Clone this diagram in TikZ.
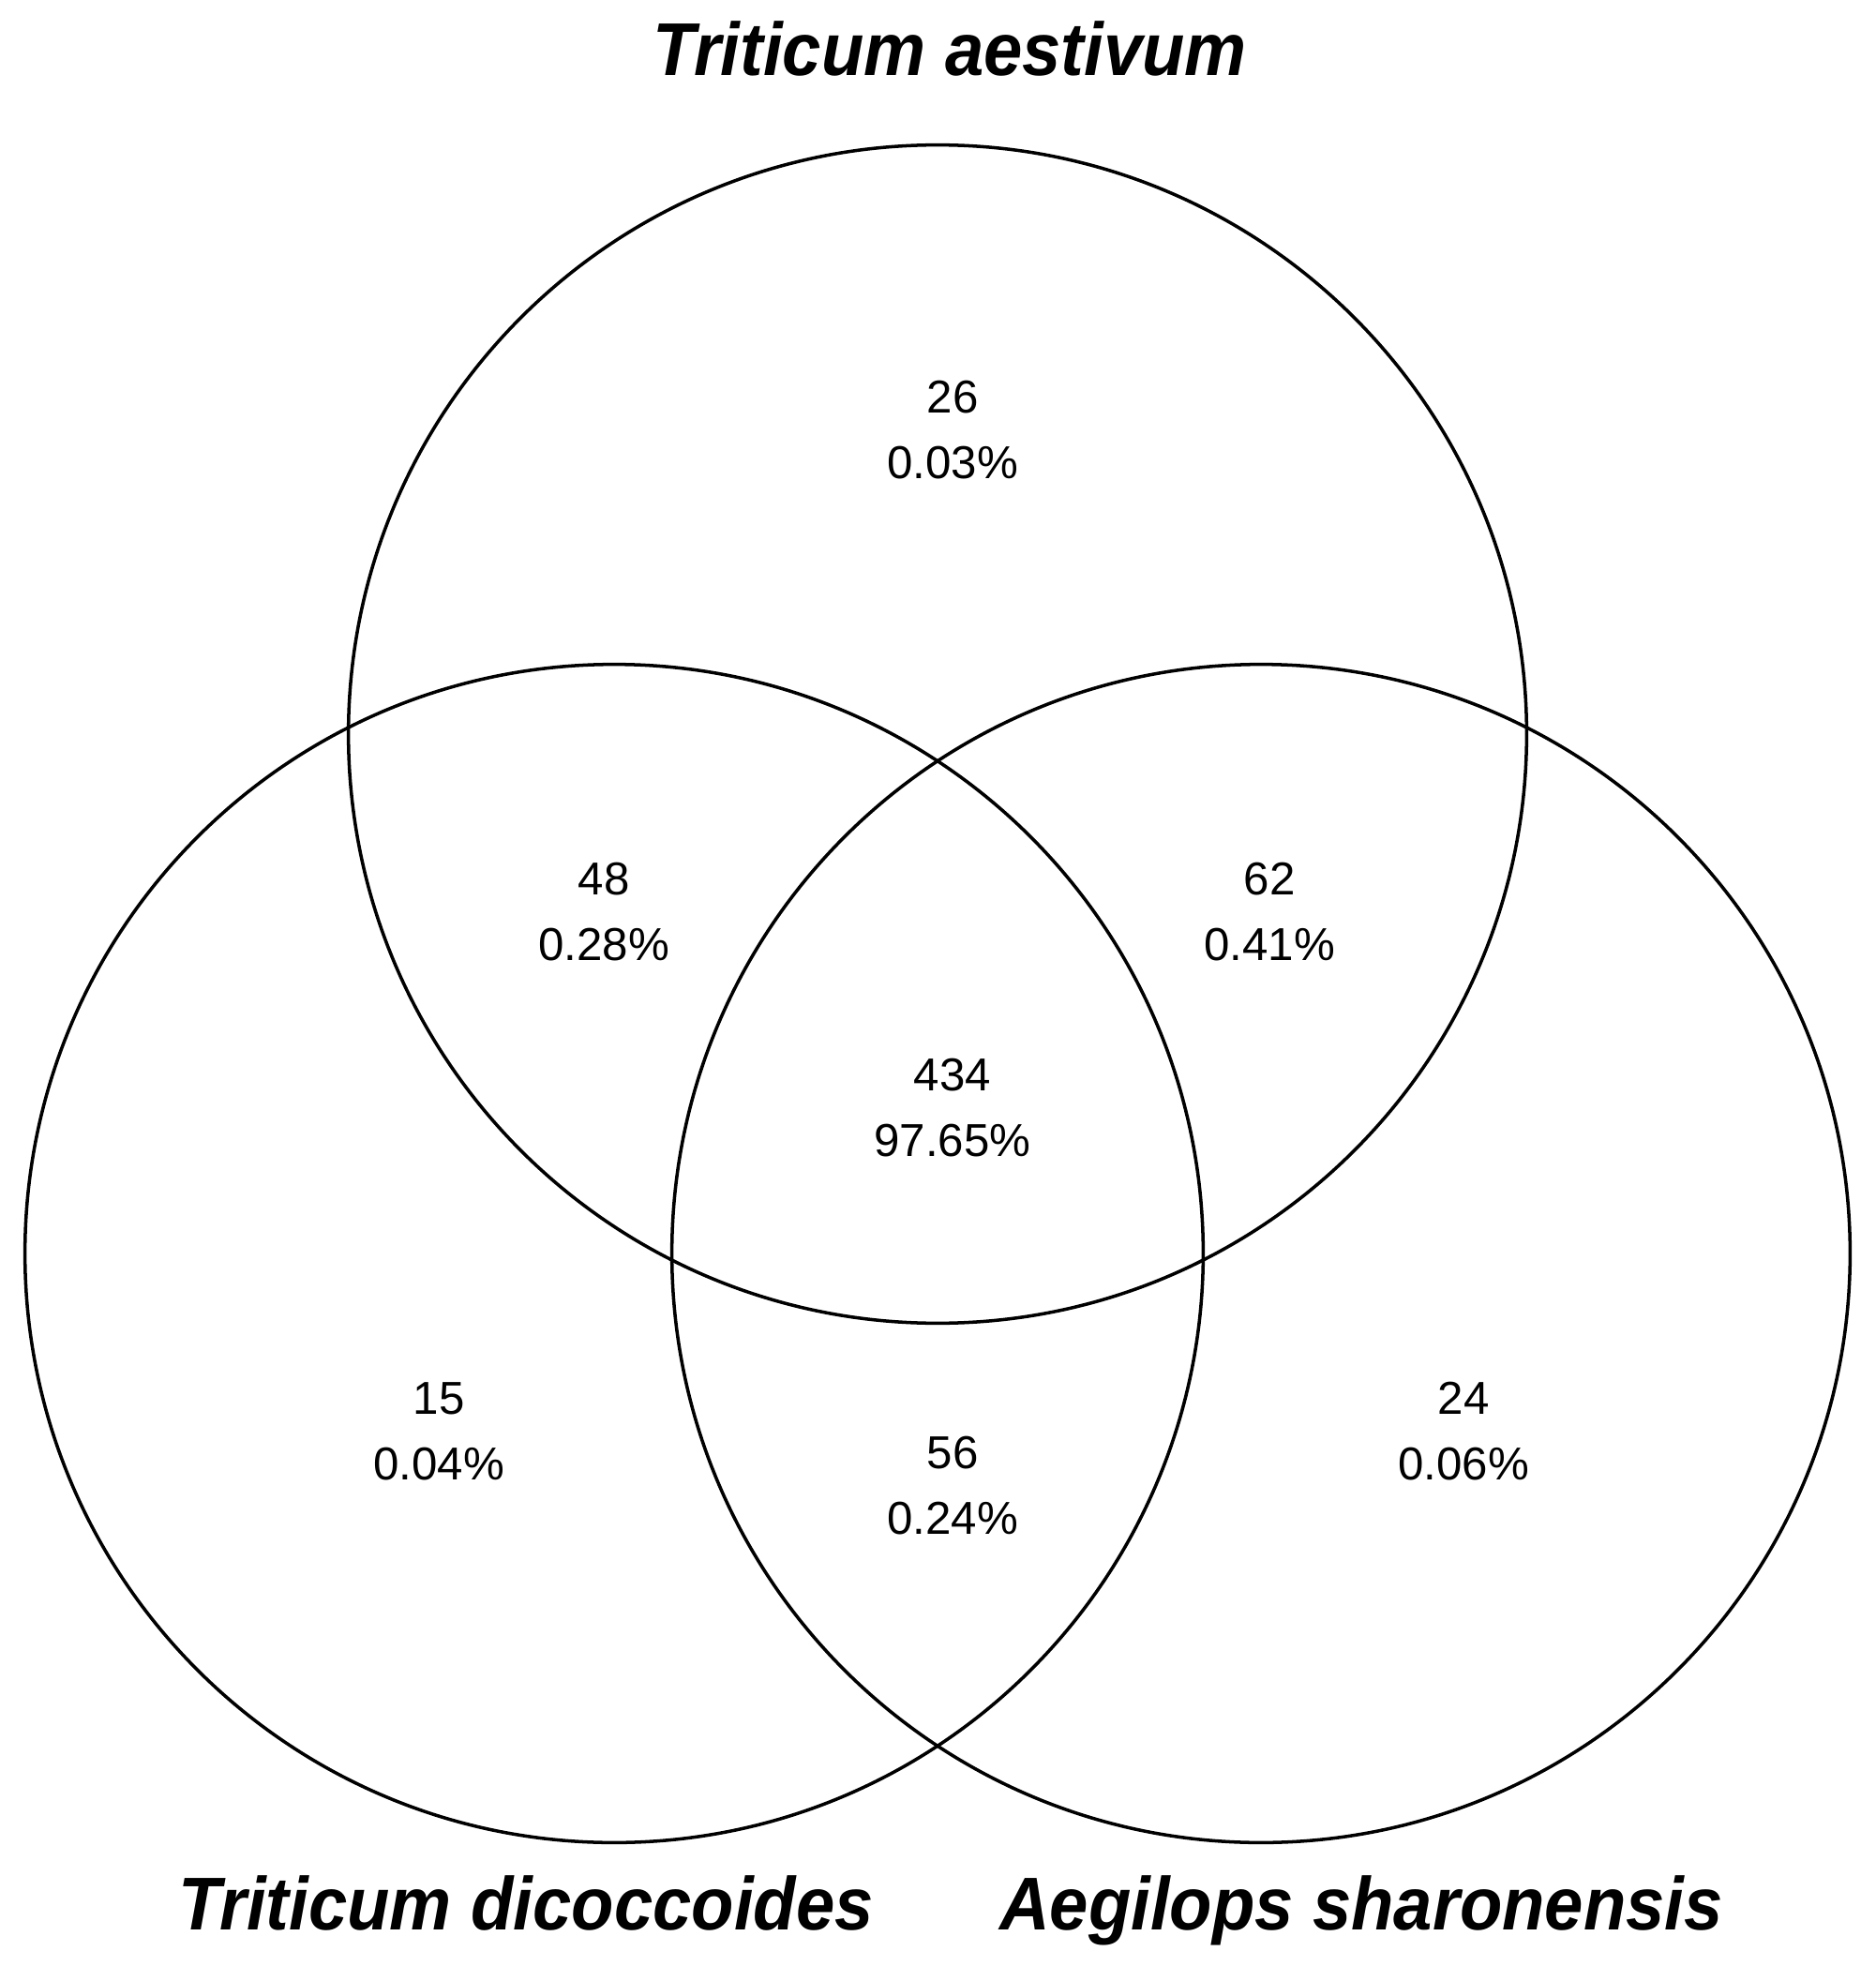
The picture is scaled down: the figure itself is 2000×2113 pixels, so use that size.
\documentclass[tikz,border=0pt]{standalone}
\usepackage{fontspec}
\setmainfont{Liberation Sans}
\newfontfamily\titlefont[FakeStretch=0.93]{Liberation Sans}
\usetikzlibrary{positioning}
\tikzset{
  vennline/.style={line width=1pt},
  count/.style={align=center, inner sep=0pt,
    font=\fontsize{14}{19.9}\selectfont},
  species/.style={anchor=base, inner sep=0pt,
    font=\titlefont\bfseries\itshape\fontsize{22.7}{26}\selectfont}
}
\newcommand \mycount[4]
{
\node[count] (#1) at (#2) {#3\\#4};
}

\begin{document}
\begin{tikzpicture}[x=0.01cm, y=-0.01cm]
\useasboundingbox (0,0) rectangle (2000,2113);
% circle centres
\coordinate (Ta) at (1000,783);
\coordinate (Td) at (655,1337);
\coordinate (As) at (1345,1337);
\draw[vennline] (Ta) circle[radius=6.28cm];
\draw[vennline] (Td) circle[radius=6.28cm];
\draw[vennline] (As) circle[radius=6.28cm];
% species names
\node[species] (TaName) at (1013,81)   {Triticum aestivum};
\node[species] (TdName) at (561,2058)  {Triticum dicoccoides};
\node[species] (AsName) at (1452,2058) {Aegilops sharonensis};
% counts
\mycount{onlyTa}{1016,459}{26}{0.03\%}
\mycount{TaTd}{644,973}{48}{0.28\%}
\mycount{TaAs}{1354,973}{62}{0.41\%}
\mycount{all}{1016,1182}{434}{97.65\%}
\mycount{onlyTd}{468,1527}{15}{0.04\%}
\mycount{TdAs}{1016,1585}{56}{0.24\%}
\mycount{onlyAs}{1561,1527}{24}{0.06\%}
\end{tikzpicture}
\end{document}
